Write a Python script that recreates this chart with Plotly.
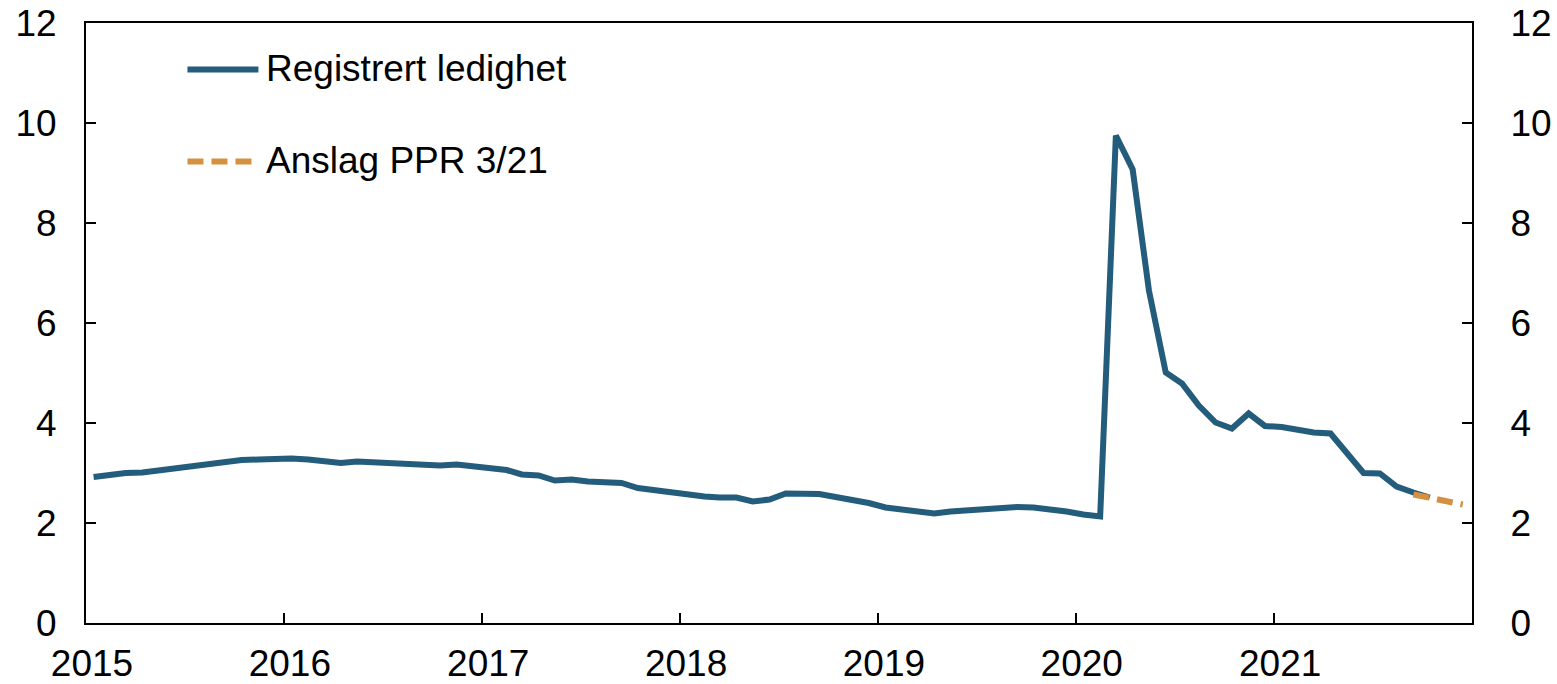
import pandas as pd
import plotly.graph_objects as go

# Registered unemployment, share of labour force (%), monthly
start_month = "2015-01-01"
ledighet = [
    2.92, 2.97, 3.00, 3.01, 3.05, 3.10, 3.14, 3.19, 3.23, 3.26, 3.27, 3.28,  # 2015
    3.29, 3.27, 3.25, 3.20, 3.23, 3.21, 3.19, 3.18, 3.15, 3.15, 3.17, 3.13,  # 2016
    3.11, 3.06, 2.97, 2.95, 2.85, 2.87, 2.83, 2.80, 2.80, 2.70, 2.65, 2.63,  # 2017
    2.57, 2.53, 2.51, 2.51, 2.43, 2.47, 2.59, 2.57, 2.58, 2.52, 2.47, 2.40,  # 2018
    2.31, 2.27, 2.23, 2.19, 2.23, 2.25, 2.29, 2.31, 2.32, 2.31, 2.28, 2.23,  # 2019
    2.17, 2.13, 9.75, 9.07, 6.65, 5.01, 4.79, 4.35, 4.01, 3.89, 4.19, 3.94,  # 2020
    3.92, 3.85, 3.81, 3.79, 3.42, 3.00, 2.99, 2.73, 2.61, 2.51,              # 2021
]

# Projection (PPR 3/21)
anslag_start = "2021-09-01"
anslag = [2.57, 2.50, 2.42, 2.37]

year_ticks = ["2015", "2016", "2017", "2018", "2019", "2020", "2021"]
y_ticks = [0, 2, 4, 6, 8, 10, 12]

BLUE = "#245C7C"
ORANGE = "#D5913F"
FONT = "Arial, Liberation Sans, sans-serif"
FS = 37

# Monthly observations are placed mid-month
x_led = pd.date_range(start_month, periods=len(ledighet), freq="MS") + pd.Timedelta(days=14)
x_ans = pd.date_range(anslag_start, periods=len(anslag), freq="MS") + pd.Timedelta(days=14)

fig = go.Figure()
fig.add_trace(go.Scatter(
    x=x_led, y=ledighet, mode="lines", name="Registrert ledighet",
    line=dict(color=BLUE, width=6), showlegend=False,
))
# Projection is plotted against the right-hand axis (same scale as the left)
fig.add_trace(go.Scatter(
    x=x_ans, y=anslag, mode="lines", name="Anslag PPR 3/21", yaxis="y2",
    line=dict(color=ORANGE, width=6, dash="16px,8px"), showlegend=False,
))

# Hand-drawn legend inside the plot area
legend_items = [
    ("Registrert ledighet", BLUE, "solid", 0.9225),
    ("Anslag PPR 3/21", ORANGE, "16px,8px", 0.7692),
]
for label, color, dash, ypos in legend_items:
    fig.add_shape(type="line", xref="paper", yref="paper",
                  x0=0.0732, x1=0.1244, y0=ypos, y1=ypos,
                  line=dict(color=color, width=6, dash=dash))
    fig.add_annotation(x=0.1285, y=ypos + 0.002, xref="paper", yref="paper",
                       text=label, showarrow=False, xanchor="left", yanchor="middle",
                       font=dict(family=FONT, size=FS, color="black"))

axis_common = dict(
    showline=True, linecolor="black", linewidth=2,
    ticks="inside", ticklen=10, tickwidth=1.5, tickcolor="black",
    showgrid=False, zeroline=False, automargin=False,
    tickfont=dict(family=FONT, size=FS, color="black"),
)

fig.update_layout(
    width=1557, height=684,
    margin=dict(l=85.5, r=84.5, t=22.5, b=61.3),
    paper_bgcolor="white", plot_bgcolor="white",
    xaxis=dict(
        type="date", range=["2015-01-01", "2022-01-01"],
        tickvals=[f"{y}-01-01" for y in year_ticks], ticktext=year_ticks,
        mirror=True, ticklabelshift=6, ticklabelstandoff=7,
        **axis_common,
    ),
    yaxis=dict(
        range=[0, 12], tickvals=y_ticks, ticktext=[str(v) for v in y_ticks],
        mirror=True, ticklabelstandoff=20,
        **axis_common,
    ),
    yaxis2=dict(
        range=[0, 12], tickvals=y_ticks, ticktext=[str(v) for v in y_ticks],
        overlaying="y", side="right", ticklabelstandoff=29,
        **axis_common,
    ),
)

fig.write_html("out.html")
